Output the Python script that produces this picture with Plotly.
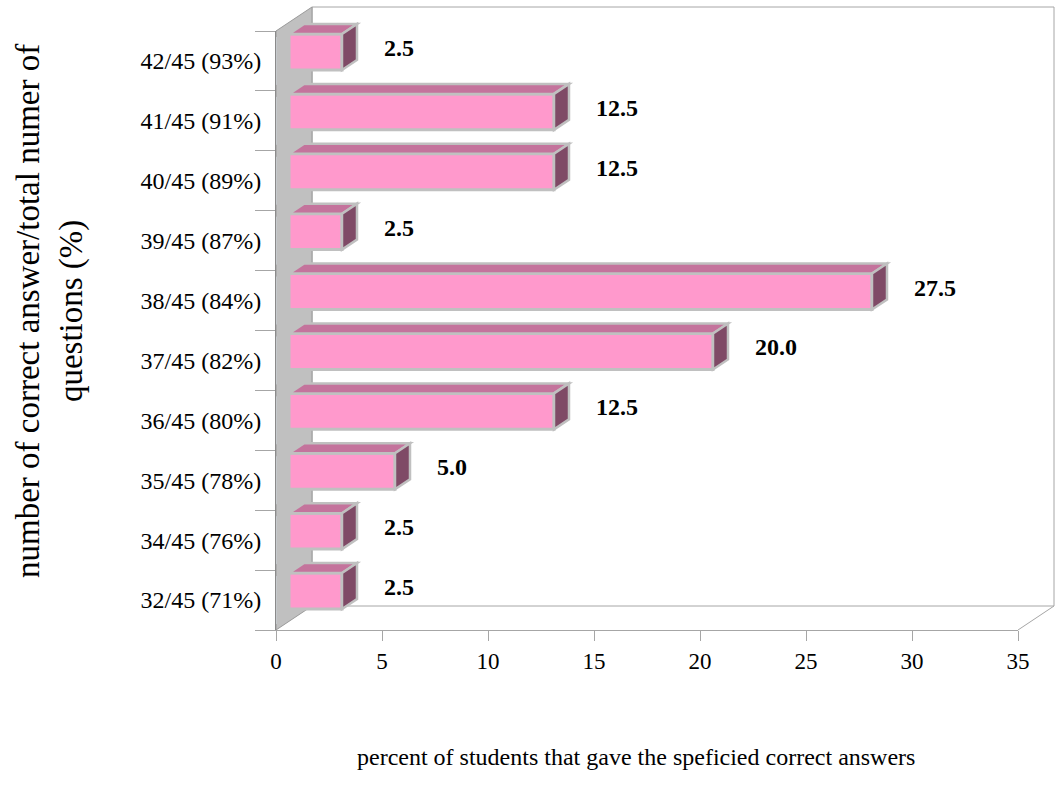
import plotly.graph_objects as go

# ---------------- data ----------------
categories = ["32/45 (71%)", "34/45 (76%)", "35/45 (78%)", "36/45 (80%)", "37/45 (82%)",
              "38/45 (84%)", "39/45 (87%)", "40/45 (89%)", "41/45 (91%)", "42/45 (93%)"]
values = [2.5, 2.5, 5.0, 12.5, 20.0, 27.5, 2.5, 12.5, 12.5, 2.5]
value_labels = ["2.5", "2.5", "5.0", "12.5", "20.0", "27.5", "2.5", "12.5", "12.5", "2.5"]
x_ticks = [0, 5, 10, 15, 20, 25, 30, 35]
x_title = "percent of students that gave the speficied correct answers"
y_title = "number of correct answer/total numer of<br>questions (%)"

# ---------------- layout constants (pixels) ----------------
W, H = 1056, 793
X0, X1 = 276, 1018          # front plane: value 0 .. 35
YT, YB = 31, 630            # front plane: top .. bottom
DX, DY = 36, 24             # full depth offset (to back wall)
BX, BY = 13, 9              # bar front plane offset
BDX, BDY = 15, 10           # bar depth
XMAX = 35
BAR_W = 0.6
SLOT = (YB - YT) / len(categories)
HALF = BAR_W / 2 * SLOT
PX_PER_UNIT = (X1 - X0) / XMAX

FONT = "Liberation Serif, Times New Roman, serif"
PINK = "#ff99cc"
TOP = "#c4739c"
SIDE = "#7f4a66"
EDGE = "#c0c0c0"
WALL = "#c0c0c0"
LINE = "#a6a6a6"


def px(x):
    return x / W


def py(y):
    return 1 - y / H


fig = go.Figure()

# invisible trace on the front axes so that the category axis and ticks are built
fig.add_trace(go.Bar(
    y=categories, x=[0] * len(categories), orientation="h",
    marker=dict(color="rgba(0,0,0,0)"), xaxis="x", yaxis="y",
    hoverinfo="skip", showlegend=False,
))

fig.add_trace(go.Bar(
    y=categories, x=values, orientation="h", width=BAR_W,
    marker=dict(color=PINK, line=dict(color=EDGE, width=3)),
    xaxis="x2", yaxis="y2", hoverinfo="skip", showlegend=False,
))

shapes = []
# back wall
shapes.append(dict(type="rect", xref="paper", yref="paper", layer="below",
                   x0=px(X0 + DX), x1=px(X1 + DX), y0=py(YB - DY), y1=py(YT - DY),
                   fillcolor="white", line=dict(color=LINE, width=1)))
# left (category) wall
shapes.append(dict(type="path", xref="paper", yref="paper", layer="below",
                   path=f"M {px(X0)},{py(YT)} L {px(X0 + DX)},{py(YT - DY)} "
                        f"L {px(X0 + DX)},{py(YB - DY)} L {px(X0)},{py(YB)} Z",
                   fillcolor=WALL, line=dict(color="#9a9a9a", width=1)))
# floor right diagonal
shapes.append(dict(type="line", xref="paper", yref="paper", layer="below",
                   x0=px(X1), y0=py(YB), x1=px(X1 + DX), y1=py(YB - DY),
                   line=dict(color=LINE, width=1)))

ddx = BDX / PX_PER_UNIT
for c, v in zip(categories, values):
    # top face (x in data units, y in pixels)
    shapes.append(dict(type="path", xref="x2", yref="y2", layer="above",
                       ysizemode="pixel", yanchor=c,
                       path=f"M 0,{HALF} L {v},{HALF} L {v + ddx},{HALF + BDY} L {ddx},{HALF + BDY} Z",
                       fillcolor=TOP, line=dict(color=EDGE, width=2.5)))
    # side face (pixels, anchored at bar end)
    shapes.append(dict(type="path", xref="x2", yref="y2", layer="above",
                       xsizemode="pixel", xanchor=v, ysizemode="pixel", yanchor=c,
                       path=f"M 0,{HALF} L {BDX},{HALF + BDY} L {BDX},{-HALF + BDY} L 0,{-HALF} Z",
                       fillcolor=SIDE, line=dict(color=EDGE, width=2.5)))

annotations = []
for c, v, t in zip(categories, values, value_labels):
    annotations.append(dict(x=v, y=c, xref="x2", yref="y2", text=f"<b>{t}</b>",
                            showarrow=False, xanchor="left", yanchor="middle",
                            xshift=40, yshift=4,
                            font=dict(family=FONT, size=24, color="black")))

annotations.append(dict(x=px(636), y=py(757), xref="paper", yref="paper", text=x_title,
                        showarrow=False, xanchor="center", yanchor="middle",
                        font=dict(family=FONT, size=24, color="black")))
annotations.append(dict(x=px(50), y=py(311), xref="paper", yref="paper", text=y_title,
                        showarrow=False, xanchor="center", yanchor="middle", textangle=-90,
                        font=dict(family="Times New Roman, Liberation Serif, serif", size=33,
                                  color="black")))

fig.update_layout(
    width=W, height=H,
    margin=dict(l=0, r=0, t=0, b=0, autoexpand=False),
    paper_bgcolor="white", plot_bgcolor="rgba(0,0,0,0)",
    showlegend=False, barmode="overlay",
    shapes=shapes, annotations=annotations,
    xaxis=dict(domain=[px(X0), px(X1)], range=[0, XMAX], anchor="y", automargin=False,
               tickmode="array", tickvals=x_ticks, ticks="outside", ticklen=10, tickcolor=LINE,
               showticklabels=True,
               showline=True, linecolor=LINE, linewidth=1, showgrid=False, zeroline=False,
               tickfont=dict(family=FONT, size=23, color="black")),
    yaxis=dict(domain=[py(YB), py(YT)], type="category", categoryorder="array",
               categoryarray=categories, range=[-0.5, len(categories) - 0.5], anchor="x",
               automargin=False,
               ticks="outside", tickson="boundaries", ticklen=20, tickcolor=LINE,
               ticklabelstandoff=9,
               showticklabels=True,
               showline=True, linecolor="#8a8a8a", linewidth=1, showgrid=False,
               tickfont=dict(family=FONT, size=24, color="black")),
    xaxis2=dict(domain=[px(X0 + BX), px(X1 + BX)], range=[0, XMAX], anchor="y2",
                visible=False, showgrid=False, automargin=False),
    yaxis2=dict(domain=[py(YB - BY), py(YT - BY)], type="category", categoryorder="array",
                categoryarray=categories, range=[-0.5, len(categories) - 0.5], anchor="x2",
                visible=False, showgrid=False, automargin=False),
)

fig.write_html("out.html")
